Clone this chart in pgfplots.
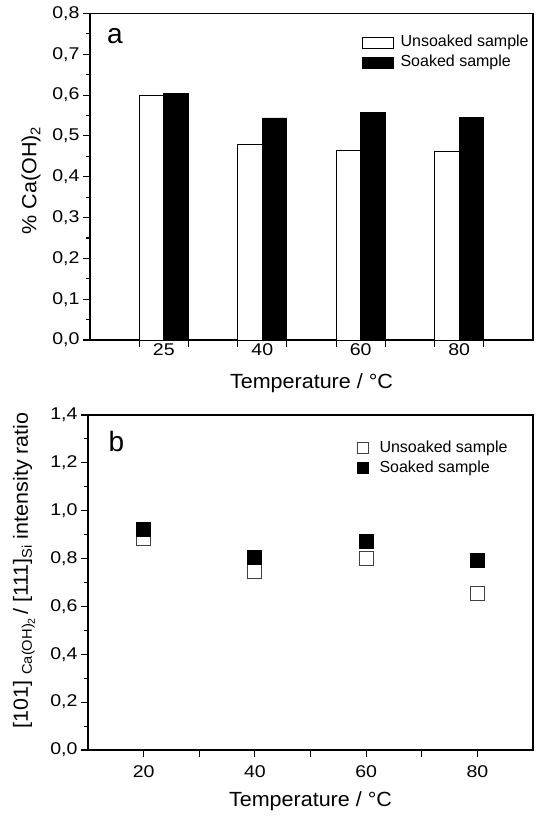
\documentclass[border=0pt]{standalone}
\usepackage{fontspec}
\setmainfont{Liberation Sans}
\newfontfamily\tickfont{Liberation Sans}[FakeStretch=1.15]
\newfontfamily\labelfont{Liberation Sans}[FakeStretch=1.05]
\usepackage{pgfplots}
\pgfplotsset{compat=1.18}

\pgfplotsset{
  panel/.style={
    scale only axis,
    axis line style={line width=1.2pt},
    tick style={black, line width=1.1pt},
    tick align=outside,
    tick pos=left,
    major tick length=7pt,
    minor tick length=4pt,
    /pgf/number format/assume math mode=true,
    yticklabel style={/pgf/number format/.cd, use comma, fixed, fixed zerofill, precision=1},
    tick label style={font=\tickfont\fontsize{17}{20}\selectfont},
    label style={font=\labelfont\fontsize{20.5}{24}\selectfont},
    legend cell align=left,
    legend style={draw=none, fill=none, inner sep=0pt, row sep=5pt,
      font=\fontsize{16}{19}\selectfont,
      nodes={inner sep=0pt, text height=12pt, text depth=3pt}},
  },
  box legend/.style={legend image code/.code={
      \draw[#1,/tikz/.cd,bar shift=0pt] (0pt,-5.5pt) rectangle (31pt,5.5pt);}},
}
% lowered small text for the subscripts of the y labels
\newcommand{\lowsub}[2]{\raisebox{#1}{\fontsize{14}{14}\selectfont #2}}

\begin{document}
\begin{tikzpicture}
% panel a: bars
\begin{axis}[panel,
  width=443pt, height=326.5pt,
  xmin=-0.75, xmax=3.75, ymin=0, ymax=0.8,
  ytick distance=0.1, minor y tick num=1,
  xtick={-0.25,0.25,0.75,1.25,1.75,2.25,2.75,3.25}, xticklabels={},
  extra x ticks={0,1,2,3}, extra x tick labels={25,40,60,80},
  extra x tick style={major tick length=0pt},
  xlabel={Temperature / °C},
  ylabel={\% Ca(OH)\lowsub{-4pt}{2}},
  xlabel style={at={(rel axis cs:0.5,0)}, anchor=base, yshift=-48pt},
  ylabel style={at={(rel axis cs:0,0.488)}, anchor=center, yshift=59pt},
  legend style={at={(rel axis cs:0.613,0.935)}, anchor=north west, column sep=7pt},
]
\addplot[ybar, bar width=0.25, bar shift=-0.125, draw=black, fill=white, line width=0.8pt, box legend]
  coordinates {(0,0.600) (1,0.479) (2,0.465) (3,0.461)};
\addlegendentry{Unsoaked sample}
\addplot[ybar, bar width=0.25, bar shift=0.125, draw=black, fill=black, line width=0.8pt, box legend]
  coordinates {(0,0.605) (1,0.544) (2,0.558) (3,0.545)};
\addlegendentry{Soaked sample}
\node[font=\fontsize{28}{30}\selectfont, anchor=base west, inner sep=0pt] at (rel axis cs:0.038,0.909) {a};
\end{axis}

% panel b: intensity ratio
\begin{axis}[panel,
  at={(-2pt,-410pt)},
  width=445pt, height=335pt,
  xmin=10, xmax=90, ymin=0, ymax=1.4,
  xtick={20,40,60,80},
  extra x ticks={30,50,70}, extra x tick labels={},
  ytick distance=0.2, minor y tick num=1,
  xticklabel style={yshift=-5pt},
  xlabel={Temperature / °C},
  ylabel={[101] \lowsub{-4pt}{Ca(OH)\raisebox{-3pt}{\fontsize{10}{10}\selectfont 2}}\,/ [111]\lowsub{-4pt}{Si} intensity ratio},
  xlabel style={at={(rel axis cs:0.5,0)}, anchor=base, yshift=-56.7pt},
  ylabel style={at={(rel axis cs:0,0.536)}, anchor=center, yshift=64pt},
  legend style={at={(rel axis cs:0.603,0.923)}, anchor=north west, column sep=11pt},
]
\addplot[only marks, mark=square*, mark size=7pt,
  mark options={fill=white, draw=black!75, line width=1pt},
  legend image code/.code={\draw[fill=white, draw=black!75, line width=1pt] (0pt,-5.5pt) rectangle (11pt,5.5pt);}]
  coordinates {(20,0.885) (40,0.745) (60,0.800) (80,0.652)};
\addlegendentry{Unsoaked sample}
\addplot[only marks, mark=square*, mark size=7pt,
  mark options={fill=black, draw=black, line width=1pt},
  legend image code/.code={\draw[fill=black, draw=black, line width=1pt] (0pt,-5.5pt) rectangle (11pt,5.5pt);}]
  coordinates {(20,0.923) (40,0.804) (60,0.871) (80,0.794)};
\addlegendentry{Soaked sample}
\node[font=\fontsize{28}{30}\selectfont, anchor=base west, inner sep=0pt] at (rel axis cs:0.046,0.890) {b};
\end{axis}

\pgfresetboundingbox
\path[use as bounding box] (-90pt,340pt) rectangle (448pt,-476pt);
\end{tikzpicture}
\end{document}
